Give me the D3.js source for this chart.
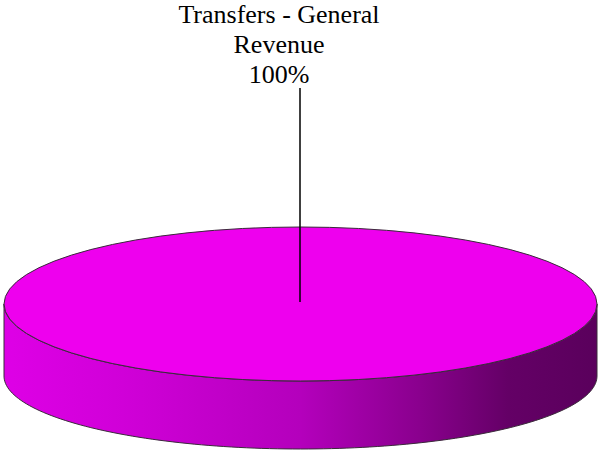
<!DOCTYPE html>
<html>
<head>
<meta charset="utf-8">
<script src="https://cdn.jsdelivr.net/npm/d3@7"></script>
<style>
  body { margin: 0; background: #fff; }
  svg { display: block; }
</style>
</head>
<body>
<div id="chart-area"></div>
<script>
const WIDTH = 598
const HEIGHT = 451

// data
const categories = ["Transfers - General Revenue"]
const values = [100]
const labelLines = [["Transfers - General", "Revenue", "100%"]]
const colors = ["#ee00ee"]

// pie geometry (3D ellipse)
const CX = 300.5
const CY = 304
const RX = 296.5
const RY = 77
const BOTTOM_CY = 376
const BOTTOM_RY = 73

const svg = d3.select("#chart-area").append("svg")
	.attr("width", WIDTH)
	.attr("height", HEIGHT)

const defs = svg.append("defs")
const grad = defs.append("linearGradient")
	.attr("id", "side-grad")
	.attr("gradientUnits", "userSpaceOnUse")
	.attr("x1", CX - RX).attr("x2", CX + RX)
	.attr("y1", 0).attr("y2", 0)
const stops = [
	[0, "#de00e6"], [0.2, "#d000d8"], [0.5, "#b400bc"],
	[0.7, "#8a008e"], [0.85, "#640066"], [1, "#5a005c"]
]
grad.selectAll("stop").data(stops).enter().append("stop")
	.attr("offset", d => d[0])
	.attr("stop-color", d => d[1])

const pie = d3.pie().sort(null)
const arcs = pie(values)

const topPt = a => [CX + RX * Math.sin(a), CY - RY * Math.cos(a)]
const botPt = a => [CX + RX * Math.sin(a), BOTTOM_CY - BOTTOM_RY * Math.cos(a)]

// side walls (only front half is visible)
const g = svg.append("g")
arcs.forEach((d, i) => {
	const s = Math.max(d.startAngle, Math.PI / 2)
	const e = Math.min(d.endAngle, Math.PI * 3 / 2)
	if (e <= s) return
	const steps = d3.range(0, 121).map(k => s + (e - s) * k / 120)
	const pts = steps.map(topPt).concat(steps.slice().reverse().map(botPt))
	g.append("path")
		.attr("d", d3.line()(pts) + "Z")
		.attr("fill", "url(#side-grad)")
		.attr("stroke", "#3a2a3a")
		.attr("stroke-width", 1)
})

// top faces
const arc = d3.arc().innerRadius(0).outerRadius(RX)
g.selectAll(".top").data(arcs).enter().append("path")
	.attr("class", "top")
	.attr("transform", `translate(${CX},${CY}) scale(1,${RY / RX})`)
	.attr("d", arc)
	.attr("fill", (d, i) => colors[i])
	.attr("stroke", "#3a2a3a")
	.attr("stroke-width", 1)
	.attr("vector-effect", "non-scaling-stroke")

// labels with leader lines
arcs.forEach((d, i) => {
	g.append("line")
		.attr("x1", 300).attr("x2", 300)
		.attr("y1", 88).attr("y2", CY - 2)
		.attr("stroke", "#000")
		.attr("stroke-width", 1.5)
	const t = g.append("text")
		.attr("text-anchor", "middle")
		.attr("font-family", "'Liberation Serif', 'Times New Roman', serif")
		.attr("font-size", "26px")
		.attr("fill", "#000")
	labelLines[i].forEach((line, j) => {
		t.append("tspan")
			.attr("x", 279)
			.attr("y", 23 + j * 30)
			.text(line)
	})
})
</script>
</body>
</html>
